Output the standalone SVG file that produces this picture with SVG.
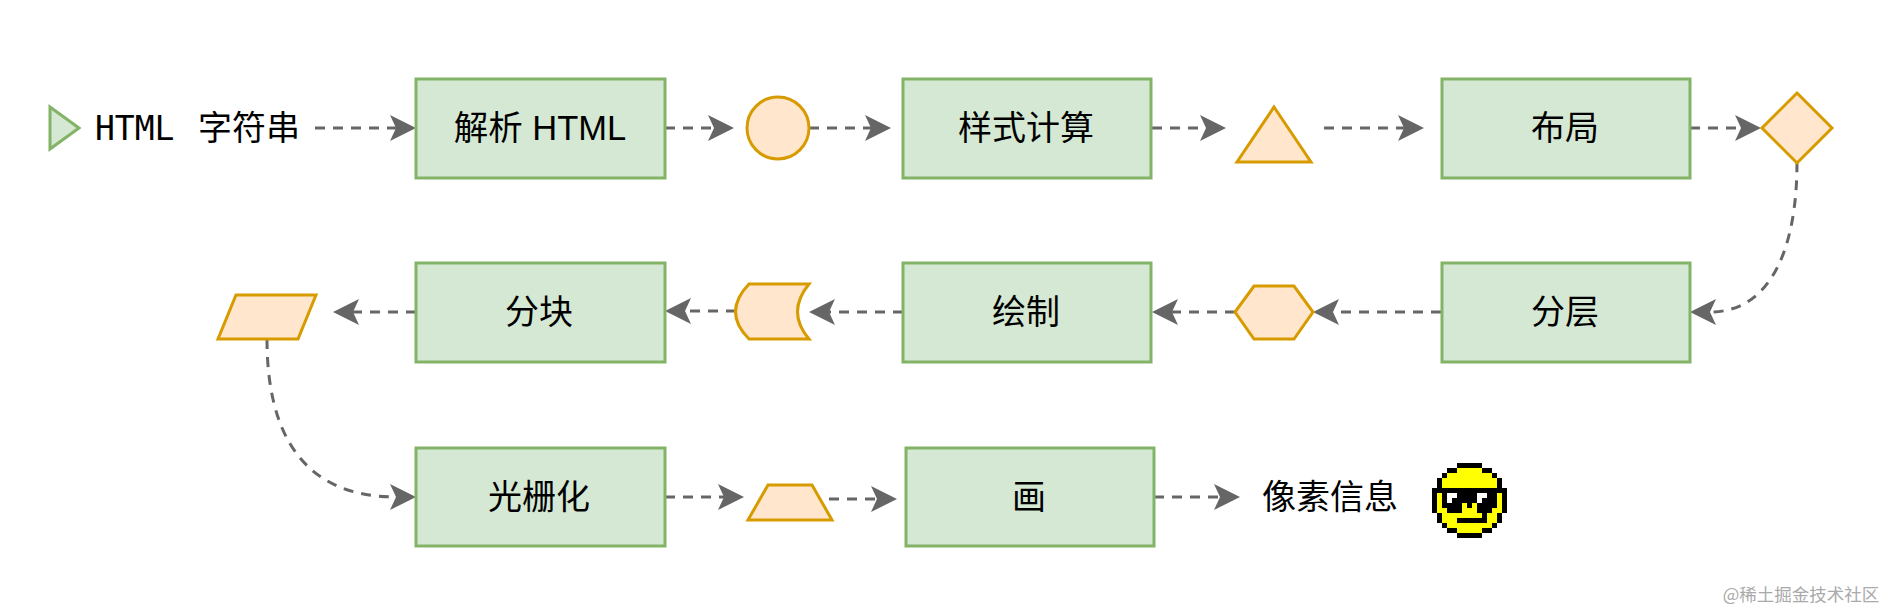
<svg xmlns="http://www.w3.org/2000/svg" width="1888" height="610" viewBox="0 0 1888 610">
<style>
text{font-family:"Noto Sans CJK SC","Liberation Sans",sans-serif;font-size:34px;fill:#000;text-anchor:middle}
.box{fill:#d5e8d4;stroke:#82b366;stroke-width:3}
.shape{fill:#ffe6cc;stroke:#d79b00;stroke-width:3}
.flow{fill:none;stroke:#666;stroke-width:3;stroke-dasharray:10 8;marker-end:url(#head)}
</style>
<defs>
<marker id="head" markerUnits="userSpaceOnUse" markerWidth="26" markerHeight="26" refX="6" refY="13" orient="auto">
<path d="M0 0L26 13L0 26L6 13Z" fill="#666"/>
</marker>
</defs>
<rect width="1888" height="610" fill="#fff"/>
<g id="connectors">
<path class="flow" d="M315 128H396"/>
<path class="flow" d="M665 128H714"/>
<path class="flow" d="M809 128H871"/>
<path class="flow" d="M1152 128H1206"/>
<path class="flow" d="M1324 128H1404"/>
<path class="flow" d="M1690 128H1741"/>
<path class="flow" d="M1797 162C1797 250 1770 312 1710 312"/>
<path class="flow" d="M1441 312H1333"/>
<path class="flow" d="M1235 312H1172"/>
<path class="flow" d="M903 312H829"/>
<path class="flow" d="M736 311H685"/>
<path class="flow" d="M416 312H353"/>
<path class="flow" d="M267 339C267 430 300 497 396 497"/>
<path class="flow" d="M665 497H724"/>
<path class="flow" d="M829 499H877"/>
<path class="flow" d="M1154 497H1220"/>
</g>
<g id="start"><path class="box" d="M50 107L79 128L50 149Z"/></g>
<g id="label-source"><text x="95" y="140" style="font-family:'DejaVu Sans Mono',monospace;font-size:33px;text-anchor:start">HTML</text><text x="249" y="140">字符串</text></g>
<g id="parse"><rect class="box" x="416" y="79" width="249" height="99"/><text x="540" y="140" style="font-family:'Liberation Sans','Noto Sans CJK SC',sans-serif;font-size:34.5px">解析 HTML</text></g>
<g id="circle"><circle class="shape" cx="778" cy="128" r="31"/></g>
<g id="style"><rect class="box" x="903" y="79" width="248" height="99"/><text x="1026" y="140">样式计算</text></g>
<g id="triangle"><path class="shape" d="M1274 107L1311 162H1237Z"/></g>
<g id="layout"><rect class="box" x="1442" y="79" width="248" height="99"/><text x="1565" y="140">布局</text></g>
<g id="diamond"><path class="shape" d="M1797 93L1832 128L1797 163L1762 128Z"/></g>
<g id="layer"><rect class="box" x="1442" y="263" width="248" height="99"/><text x="1565" y="324">分层</text></g>
<g id="hexagon"><path class="shape" d="M1254 286H1294L1313 312L1294 339H1254L1235 312Z"/></g>
<g id="paint"><rect class="box" x="903" y="263" width="248" height="99"/><text x="1026" y="324">绘制</text></g>
<g id="data"><path class="shape" d="M749 284H809Q786 312 809 339H749Q722 312 749 284Z"/></g>
<g id="tile"><rect class="box" x="416" y="263" width="249" height="99"/><text x="539" y="324">分块</text></g>
<g id="parallelogram"><path class="shape" d="M236 295H316L298 339H218Z"/></g>
<g id="raster"><rect class="box" x="416" y="448" width="249" height="98"/><text x="539" y="509">光栅化</text></g>
<g id="trapezoid"><path class="shape" d="M768 485H812L832 520H748Z"/></g>
<g id="draw"><rect class="box" x="906" y="448" width="248" height="98"/><text x="1029" y="509">画</text></g>
<g id="pixels"><text x="1330" y="509">像素信息</text></g>
<g id="smiley" transform="translate(1432 463) scale(5)" shape-rendering="crispEdges">
<path fill="#ff0" d="M5 1h5v1h2v1h1v2h1v5h-1v2h-1v1h-2v1h-5v-1h-2v-1h-1v-2h-1v-5h1v-2h1v-1h2z"/>
<path fill="#000" d="M5 0h5v1h-5zM3 1h2v1h-2zM10 1h2v1h-2zM2 2h1v1h-1zM12 2h1v1h-1zM1 3h1v2h-1zM13 3h1v2h-1zM0 5h15v1h-15zM0 6h1v4h-1zM14 6h1v4h-1zM2 6h11v2h-11zM2 8h4v1h-4zM7 8h1v1h-1zM9 8h4v1h-4zM3 9h3v1h-3zM9 9h3v1h-3zM1 10h1v2h-1zM13 10h1v2h-1zM10 10h1v1h-1zM5 11h6v1h-6zM2 12h1v1h-1zM12 12h1v1h-1zM3 13h2v1h-2zM10 13h2v1h-2zM5 14h5v1h-5z"/>
<path fill="#fff" d="M3 6h2v1h-1v1h-1zM9 6h2v1h-1v1h-1z"/>
</g>
<g id="watermark"><text x="1801" y="601" style="font-size:17.5px;fill:#aaa">@稀土掘金技术社区</text></g>
</svg>
